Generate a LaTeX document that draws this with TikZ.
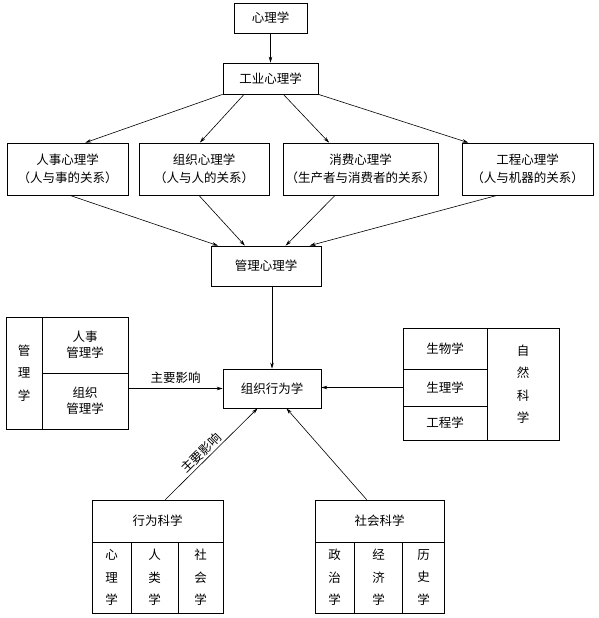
\documentclass[tikz,border=0pt]{standalone}
\usepackage{fontspec}
\newfontfamily\cjk{Noto Sans CJK SC}
\usetikzlibrary{arrows.meta}

\begin{document}
\begin{tikzpicture}[x=1pt,y=-1pt,
  font=\cjk\fontsize{12.5}{18}\selectfont,
  box/.style={draw,line width=0.7pt,inner sep=0pt,align=center},
  vbox/.style={box,font=\cjk\fontsize{12.5}{22.5}\selectfont},
  twobox/.style={box,font=\cjk\fontsize{12.5}{16}\selectfont},
  arr/.style={line width=0.6pt,-{Stealth[length=6pt,width=3.5pt]}},
  lab/.style={inner sep=2pt}]
  \path[fill=white] (0,0) rectangle (598,618);

  % 上层
  \node[box,minimum width=73,minimum height=30] (xl) at (270.5,18) {心理学};
  \node[box,minimum width=95,minimum height=31] (gy) at (270.5,78.5) {工业心理学};

  % 四个分支
  \node[box,minimum width=121,minimum height=52] (rs) at (67.5,169) {人事心理学\\（人与事的关系）};
  \node[box,minimum width=130,minimum height=52] (zz) at (204,169) {组织心理学\\（人与人的关系）};
  \node[box,minimum width=155,minimum height=52] (xf) at (360.5,169) {消费心理学\\（生产者与消费者的关系）};
  \node[box,minimum width=131,minimum height=52] (gc) at (527.5,169) {工程心理学\\（人与机器的关系）};

  \node[box,minimum width=110,minimum height=40] (glxl) at (266,266) {管理心理学};
  \node[box,minimum width=98,minimum height=39] (zzxw) at (272,388.5) {组织行为学};

  % 管理学
  \node[vbox,minimum width=36,minimum height=112] (gl) at (24,373) {管\\理\\学};
  \node[twobox,minimum width=86,minimum height=56] (rsgl) at (85,345) {人事\\管理学};
  \node[twobox,minimum width=86,minimum height=56] (zzgl) at (85,401) {组织\\管理学};

  % 自然科学
  \node[box,minimum width=84,minimum height=41] (sw) at (445,348.5) {生物学};
  \node[box,minimum width=84,minimum height=37] (sl) at (445,387.5) {生理学};
  \node[box,minimum width=84,minimum height=34] (gcx) at (445,423) {工程学};
  \node[vbox,minimum width=72,minimum height=112] (zr) at (523,384) {自\\然\\科\\学};

  % 行为科学
  \node[box,minimum width=131,minimum height=42] (xwkx) at (157.5,521) {行为科学};
  \node[vbox,minimum width=39,minimum height=71] (xlx) at (111.5,577.5) {心\\理\\学};
  \node[vbox,minimum width=47,minimum height=71] (rlx) at (154.5,577.5) {人\\类\\学};
  \node[vbox,minimum width=45,minimum height=71] (shx) at (200.5,577.5) {社\\会\\学};

  % 社会科学
  \node[box,minimum width=129,minimum height=42] (shkx) at (379.5,521) {社会科学};
  \node[vbox,minimum width=39,minimum height=71] (zzx) at (334.5,577.5) {政\\治\\学};
  \node[vbox,minimum width=48,minimum height=71] (jjx) at (378.5,577.5) {经\\济\\学};
  \node[vbox,minimum width=42,minimum height=71] (lsx) at (423.5,577.5) {历\\史\\学};

  % 连线
  \draw[arr] (xl) -- (gy);
  \draw[arr] (gy.south west) -- (rs.56);
  \draw[arr] (gy.-149) -- (zz.99);
  \draw[arr] (gy.-51) -- (xf.140);
  \draw[arr] (gy.south east) -- (gc.156);

  \draw[arr] (rs.-85) -- (glxl.157);
  \draw[arr] (zz.-101) -- (glxl.136);
  \draw[arr] (xf.-134) -- (glxl.46);
  \draw[arr] (gc.-139) -- (glxl.25);

  \draw[arr] (glxl.south -| zzxw) -- (zzxw.north);
  \draw[arr] (zzxw.west -| zzgl.east) -- node[lab,above=3pt] {主要影响} (zzxw.west);
  \draw[arr] (sl.west) -- (sl.west -| zzxw.east);
  \draw[arr] (xwkx.70) -- node[lab,pos=0.45,above,sloped] {主要影响} (zzxw.-126);
  \draw[arr] (shkx.121) -- (zzxw.-54);
\end{tikzpicture}
\end{document}
